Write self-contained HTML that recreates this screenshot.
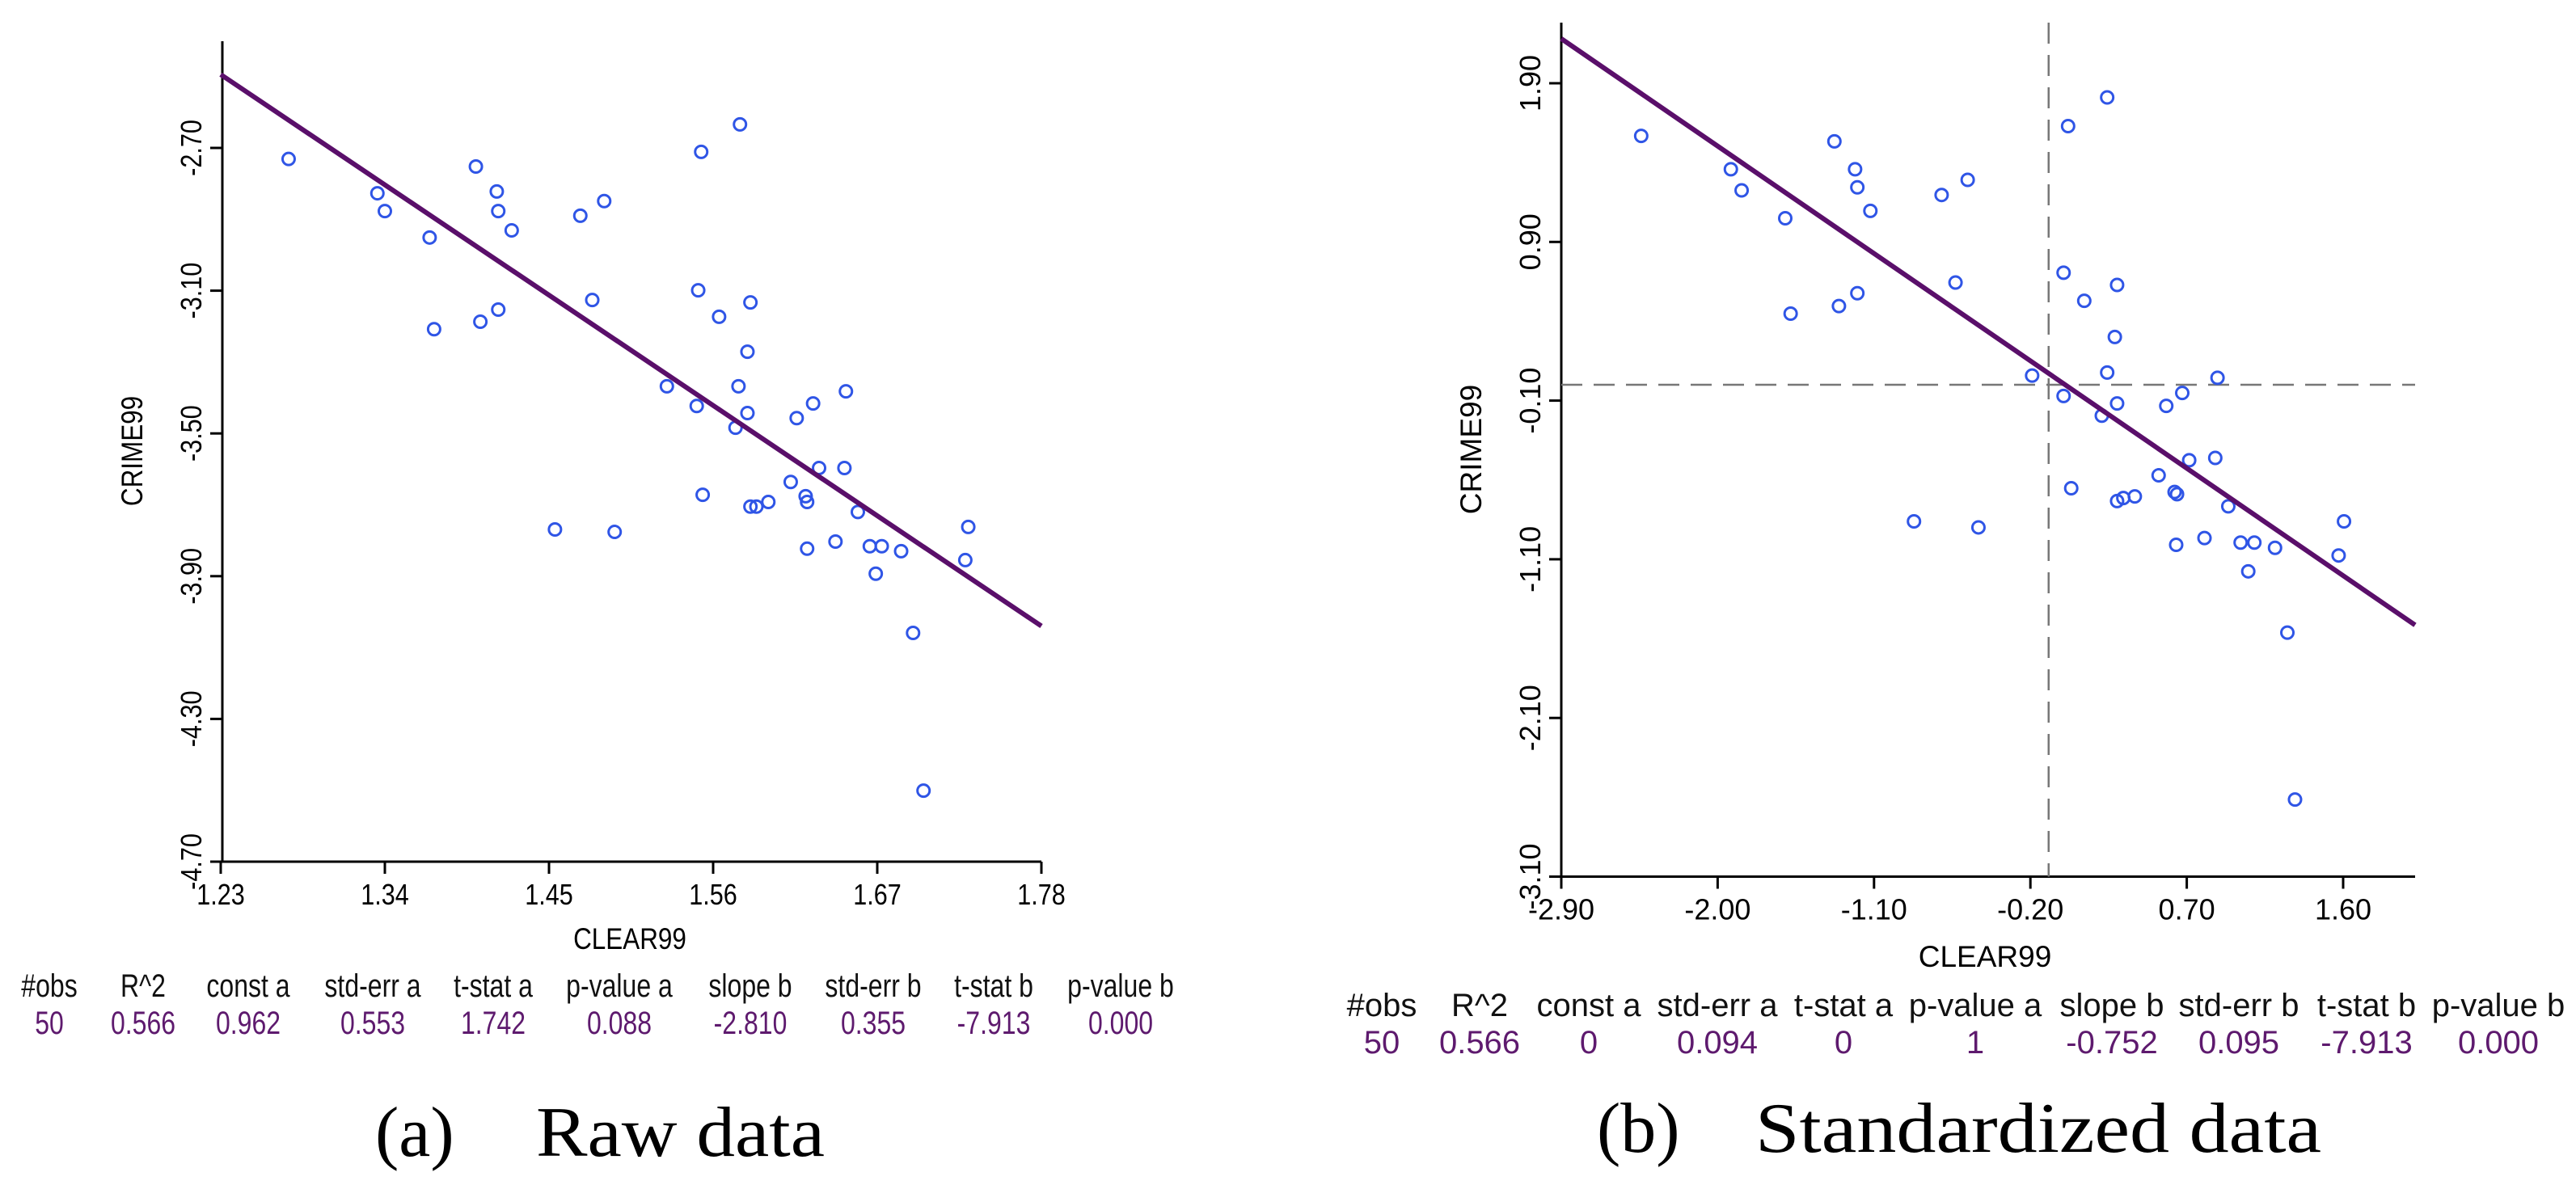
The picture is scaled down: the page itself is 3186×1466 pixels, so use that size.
<!DOCTYPE html>
<html><head><meta charset="utf-8"><style>
html,body{margin:0;padding:0;background:#fff;}
svg{display:block;}
text{font-family:"Liberation Sans",sans-serif;}
.cap{font-family:"Liberation Serif",serif;}
</style></head><body>
<svg id="fig" width="3186" height="1466" viewBox="0 0 3186 1466" xmlns="http://www.w3.org/2000/svg"></svg>
<script>
// ---- Panel (a) raw data ----
const rawX = [1.2755,1.335,1.340,1.370,1.401,1.415,1.416,1.425,1.471,1.487,1.552,1.578,1.373,1.404,1.416,1.479,1.550,1.585,1.564,1.583,1.529,1.577,1.649,1.627,1.549,1.583,1.616,1.575,1.631,1.648,1.612,1.553,1.622,1.623,1.585,1.589,1.597,1.657,1.454,1.494,1.731,1.623,1.642,1.665,1.673,1.686,1.729,1.669,1.694,1.701];
const rawY = [-2.731,-2.827,-2.877,-2.951,-2.752,-2.822,-2.877,-2.931,-2.890,-2.849,-2.711,-2.634,-3.208,-3.187,-3.153,-3.126,-3.099,-3.133,-3.173,-3.271,-3.368,-3.368,-3.382,-3.416,-3.423,-3.443,-3.457,-3.484,-3.597,-3.597,-3.636,-3.672,-3.676,-3.692,-3.705,-3.705,-3.692,-3.720,-3.769,-3.776,-3.762,-3.823,-3.803,-3.816,-3.816,-3.830,-3.855,-3.893,-4.059,-4.501];
const rawXTicks = ["1.23","1.34","1.45","1.56","1.67","1.78"];
const rawYTicks = ["-2.70","-3.10","-3.50","-3.90","-4.30","-4.70"];
const rawFit = [0.962,-2.810];
const rawStatsLabels = ["#obs","R^2","const a","std-err a","t-stat a","p-value a","slope b","std-err b","t-stat b","p-value b"];
const rawStatsValues = ["50","0.566","0.962","0.553","1.742","0.088","-2.810","0.355","-7.913","0.000"];

// ---- Panel (b) standardized ----
const stdX = [-2.440,-1.924,-1.862,-1.611,-1.328,-1.209,-1.196,-1.121,-0.711,-0.561,0.017,0.242,-1.580,-1.302,-1.196,-0.631,-0.009,0.299,0.110,0.286,-0.190,0.242,0.877,0.674,-0.009,0.299,0.582,0.211,0.714,0.864,0.538,0.035,0.630,0.644,0.299,0.335,0.401,0.939,-0.870,-0.499,1.605,0.639,0.802,1.010,1.089,1.208,1.574,1.054,1.279,1.323];
const stdY = [1.568,1.358,1.225,1.049,1.534,1.358,1.244,1.096,1.196,1.291,1.630,1.811,0.448,0.496,0.577,0.644,0.706,0.629,0.529,0.301,0.058,0.077,0.044,-0.052,-0.071,-0.118,-0.133,-0.195,-0.476,-0.461,-0.571,-0.652,-0.676,-0.690,-0.733,-0.714,-0.704,-0.766,-0.861,-0.899,-0.861,-1.009,-0.966,-0.995,-0.995,-1.028,-1.076,-1.176,-1.562,-2.614];
const stdXTicks = ["-2.90","-2.00","-1.10","-0.20","0.70","1.60"];
const stdYTicks = ["1.90","0.90","-0.10","-1.10","-2.10","-3.10"];
const stdFit = [0,-0.752];
const stdMeanLines = [-0.095,0];
const stdStatsLabels = ["#obs","R^2","const a","std-err a","t-stat a","p-value a","slope b","std-err b","t-stat b","p-value b"];
const stdStatsValues = ["50","0.566","0","0.094","0","1","-0.752","0.095","-7.913","0.000"];

const NS="http://www.w3.org/2000/svg";
const svg=document.getElementById('fig');
function mk(tag,attrs,parent){const e=document.createElementNS(NS,tag);for(const k in attrs)e.setAttribute(k,attrs[k]);(parent||svg).appendChild(e);return e;}

function panel(cfg){
  const g=mk('g',{});
  
  
  const sx=v=>cfg.px0+(v-cfg.x0)*(cfg.px1-cfg.px0)/(cfg.x1-cfg.x0);
  const sy=v=>cfg.py0+(v-cfg.y0)*(cfg.py1-cfg.py0)/(cfg.y1-cfg.y0);
  const yax=mk('line',{x1:cfg.axX,y1:cfg.axTop,x2:cfg.axX,y2:cfg.axY,stroke:'#000','stroke-width':3},g);
  
  
  const xax=mk('line',{x1:cfg.axX,y1:cfg.axY,x2:cfg.axRight,y2:cfg.axY,stroke:'#000','stroke-width':3},g);
  
  
  cfg.xTicks.forEach(t=>{
    const x=sx(parseFloat(t));
    mk('line',{x1:x,y1:cfg.axY,x2:x,y2:cfg.axY+15,stroke:'#000','stroke-width':3},g);
    const tx=mk('text',{x:x,y:cfg.axY+53,'font-size':cfg.tickFs,'text-anchor':'middle',fill:'#000',transform:`translate(${x},0) scale(${cfg.cond},1) translate(${-x},0)`},g);
    tx.textContent=t;
    
    
  });
  cfg.yTicks.forEach(t=>{
    const y=sy(parseFloat(t));
    mk('line',{x1:cfg.axX-15,y1:y,x2:cfg.axX,y2:y,stroke:'#000','stroke-width':3},g);
    const tx=mk('text',{x:0,y:0,'font-size':cfg.tickFs,'text-anchor':'middle',fill:'#000',transform:`translate(${cfg.axX-26},${y}) rotate(-90) scale(${cfg.cond},1)`},g);
    tx.textContent=t;
    
    
  });
  const yl=mk('text',{x:0,y:0,'font-size':37,'text-anchor':'middle',fill:'#000',transform:`translate(${cfg.ylabX},${cfg.ylabY}) rotate(-90) scale(${cfg.cond},1)`},g);
  yl.textContent='CRIME99';
  
  
  const xl=mk('text',{x:0,y:0,'font-size':37,'text-anchor':'middle',fill:'#000',transform:`translate(${cfg.xlabX},${cfg.xlabY}) scale(${cfg.cond},1)`},g);
  xl.textContent='CLEAR99';
  
  
  if(cfg.mean){
    const v=mk('line',{x1:sx(cfg.mean[0]),y1:cfg.axTop,x2:sx(cfg.mean[0]),y2:cfg.axY,stroke:'#777','stroke-width':2.5,'stroke-dasharray':'26,14'},g);
    
    
    const h=mk('line',{x1:cfg.axX,y1:sy(cfg.mean[1]),x2:cfg.axRight,y2:sy(cfg.mean[1]),stroke:'#777','stroke-width':2.5,'stroke-dasharray':'26,14'},g);
    
    
  }
  cfg.xs.forEach((xv,i)=>{
    const c=mk('circle',{cx:sx(xv),cy:sy(cfg.ys[i]),r:7.5,fill:'none',stroke:'#2f55e6','stroke-width':3},g);
    
    
  });
  const a=cfg.fit[0],b=cfg.fit[1];
  const fl=mk('line',{x1:sx(cfg.x0),y1:sy(a+b*cfg.x0),x2:sx(cfg.lineEnd),y2:sy(a+b*cfg.lineEnd),stroke:'#5a0f6a','stroke-width':6},g);
  
  
  cfg.labels.forEach((l,i)=>{
    const cx=cfg.statX[i];
    const h=mk('text',{x:0,y:0,'font-size':40,'text-anchor':'middle',fill:'#111',transform:`translate(${cx},${cfg.statY}) scale(${cfg.statCond},1)`},g);
    h.textContent=l;
    
    
    const v=mk('text',{x:0,y:0,'font-size':40,'text-anchor':'middle',fill:'#5e1a6e',transform:`translate(${cx},${cfg.statY+46}) scale(${cfg.statCond},1)`},g);
    v.textContent=cfg.values[i];
    
    
  });
  const c1=mk('text',{x:cfg.capA,y:cfg.capY,'font-size':88,fill:'#000',class:'cap'},g);
  c1.textContent=cfg.capL;
  
  
  const c2=mk('text',{x:cfg.capB,y:cfg.capY,'font-size':88,fill:'#000',class:'cap',textLength:cfg.capW,lengthAdjust:'spacingAndGlyphs'},g);
  c2.textContent=cfg.capT;
  
  
}

panel({name:'raw-data-panel',xs:rawX,ys:rawY,xTicks:rawXTicks,yTicks:rawYTicks,fit:rawFit,labels:rawStatsLabels,values:rawStatsValues,
  x0:1.23,x1:1.78,px0:273,px1:1288,y0:-2.70,y1:-4.70,py0:183,py1:1066,
  axX:275,axTop:51,axY:1066,axRight:1288,lineEnd:1.78,tickFs:36,cond:0.85,
  ylabX:176,ylabY:558,xlabX:779,xlabY:1174,
  statX:[61,177,307,461,610,766,928,1080,1229,1386],statY:1233,statCond:0.8,
  capA:464,capB:663,capY:1430,capW:357,capL:'(a)',capT:'Raw data'});

panel({name:'standardized-data-panel',xs:stdX,ys:stdY,xTicks:stdXTicks,yTicks:stdYTicks,fit:stdFit,labels:stdStatsLabels,values:stdStatsValues,mean:stdMeanLines,
  x0:-2.90,x1:1.60,px0:1931,px1:2898,y0:1.90,y1:-3.10,py0:103,py1:1084.5,
  axX:1931,axTop:28,axY:1084.5,axRight:2987,lineEnd:2.014,tickFs:36,cond:1,
  ylabX:1832,ylabY:556,xlabX:2455,xlabY:1196,
  statX:[1709,1830,1965,2124,2280,2443,2612,2769,2927,3090],statY:1257,statCond:1,
  capA:1975,capB:2171,capY:1425,capW:700,capL:'(b)',capT:'Standardized data'});
</script>
</body></html>
